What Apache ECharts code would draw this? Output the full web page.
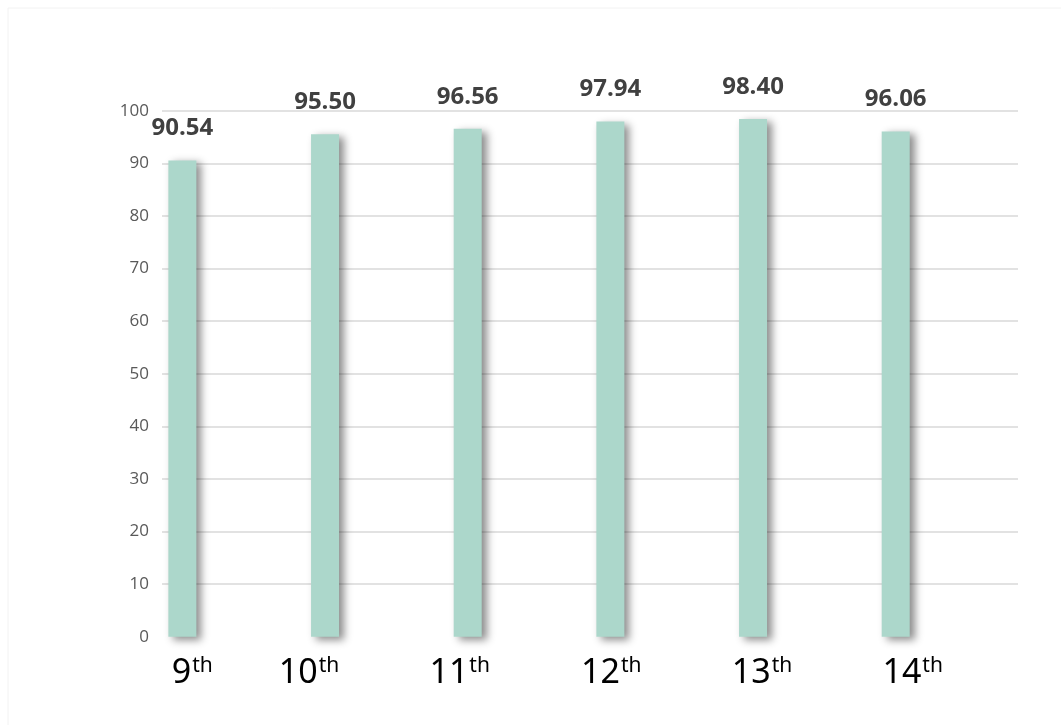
<!DOCTYPE html>
<html>
<head>
<meta charset="utf-8">
<script src="https://cdn.jsdelivr.net/npm/echarts@6/dist/echarts.min.js"></script>
<style>
  html, body { margin: 0; padding: 0; background: #fff; }
  #chart { width: 1061px; height: 725px; }
</style>
</head>
<body>
<div id="chart"></div>
<script>
// Grade levels and their scores
const gradeNumbers = ['9', '10', '11', '12', '13', '14'];
const gradeSuffix = 'th';
const scores = [90.54, 95.50, 96.56, 97.94, 98.40, 96.06];

// Value axis range
const yMin = 0;
const yMax = 100;
const yStep = 10;

// Horizontal nudge (px, leftwards) for each grade label
const labelShift = [82, 134, 118, 100, 84, 68];

const chart = echarts.init(document.getElementById('chart'), null, { renderer: 'canvas' });

const rich = {
  n: { fontFamily: 'Noto Sans', fontSize: 34, color: '#000', lineHeight: 40, verticalAlign: 'bottom' },
  s: { fontFamily: 'Noto Sans', fontSize: 21, color: '#000', lineHeight: 40, verticalAlign: 'bottom', padding: [0, 0, 14, 1] }
};
labelShift.forEach((w, i) => {
  rich['p' + i] = { width: w, fontSize: 10, lineHeight: 40 };
});

chart.setOption({
  backgroundColor: '#ffffff',
  animation: false,
  graphic: [{
    type: 'rect',
    shape: { x: 8, y: 8, width: 1100, height: 800 },
    style: { fill: 'none', stroke: '#f2f2f2', lineWidth: 1 },
    silent: true
  }],
  grid: { left: 162, right: 43, top: 110.7, bottom: 88.3, outerBoundsMode: 'none' },
  xAxis: {
    type: 'category',
    data: gradeNumbers,
    axisLine: { show: false },
    axisTick: { show: false },
    axisLabel: {
      margin: 14,
      interval: 0,
      formatter: (v, i) => '{n|' + v + '}{s|' + gradeSuffix + '}{p' + i + '| }',
      rich: rich
    }
  },
  yAxis: {
    type: 'value',
    min: yMin,
    max: yMax,
    interval: yStep,
    axisLine: { show: false },
    axisTick: { show: false },
    axisLabel: { fontFamily: 'Open Sans', fontSize: 17, color: '#595959', margin: 13 },
    splitLine: { showMinLine: false, lineStyle: { color: '#d9d9d9', width: 1.5 } }
  },
  series: [
    {
      name: 'Score',
      type: 'bar',
      data: scores,
      barWidth: 28,
      barGap: '264%',
      itemStyle: {
        color: '#acd7cb',
        shadowColor: 'rgba(0,0,0,0.45)',
        shadowBlur: 8,
        shadowOffsetX: 5,
        shadowOffsetY: 3
      },
      label: {
        show: true,
        position: 'top',
        distance: 20,
        formatter: p => p.value.toFixed(2),
        fontFamily: 'Open Sans',
        fontWeight: 'bold',
        fontSize: 24,
        color: '#404040'
      }
    },
    {
      name: 'spacer',
      type: 'bar',
      data: scores.map(() => '-'),
      barWidth: 28,
      silent: true
    }
  ]
});
</script>
</body>
</html>
